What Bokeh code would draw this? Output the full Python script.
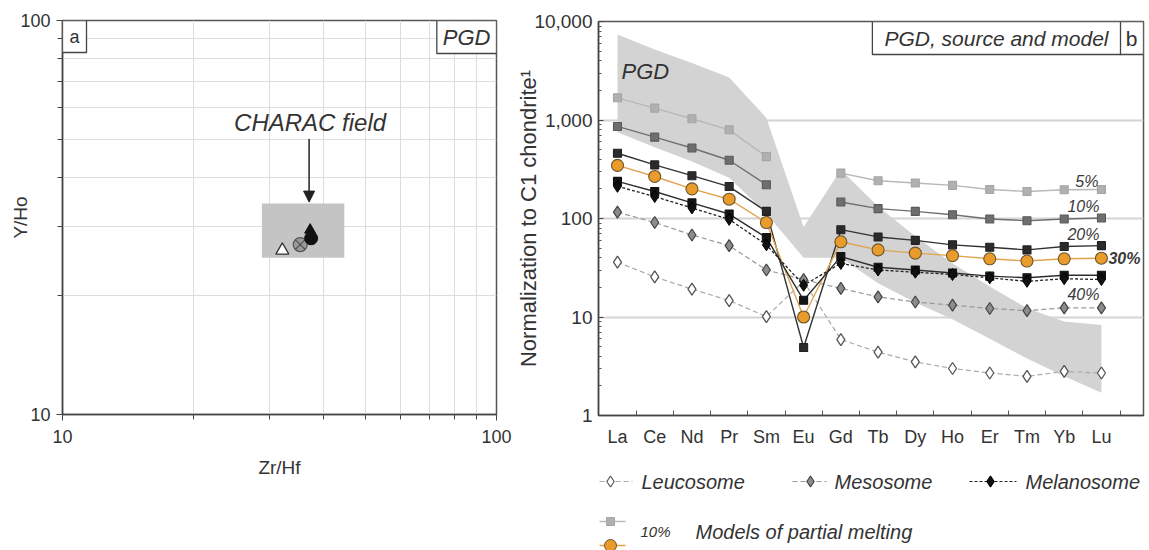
import math
from bokeh.plotting import figure
from bokeh.layouts import row, column
from bokeh.models import (Range1d, FixedTicker, Label, Arrow, NormalHead,
                          NumeralTickFormatter)
from bokeh.core.properties import value
from bokeh.embed import file_html
from bokeh.resources import INLINE

FONT = "Liberation Sans"
nan = float("nan")

# ---------------- Panel a data ----------------
charac_zrhf = [28.8, 44.6]          # CHARAC field extent (Zr/Hf)
charac_yho = [25.0, 34.3]           # CHARAC field extent (Y/Ho)
leuco_zrhf = [32.1]
leuco_yho = [26.1]
meso_zrhf = [35.3]
meso_yho = [27.0]
mela_zrhf = [37.4, 37.2]
mela_yho = [28.0, 29.4]

# ---------------- Panel b data ----------------
ree = ["La", "Ce", "Nd", "Pr", "Sm", "Eu", "Gd", "Tb", "Dy", "Ho", "Er", "Tm", "Yb", "Lu"]
leucosome = [36, 25.5, 19.2, 14.7, 10.1, 23, 5.9, 4.4, 3.5, 3.0, 2.7, 2.5, 2.8, 2.7]
mesosome = [116, 91, 68, 53, 30, 24, 19.5, 16, 14.2, 13.2, 12.2, 11.6, 12.4, 12.4]
melanosome = [212, 167, 128, 98, 54, 21, 35, 30, 28.5, 27, 25, 23, 24.5, 24]
model_5 = [1680, 1320, 1030, 795, 425, nan, 289, 242, 229, 217, 197, 188, 196, 197]
model_10 = [860, 670, 520, 390, 220, nan, 147, 126, 118, 109, 99, 95, 99, 101]
model_20 = [460, 350, 272, 211, 118, 4.9, 77, 65, 60, 54, 51, 48, 52, 53]
model_30 = [346, 267, 200, 157, 91, 10, 58, 48, 44.5, 42, 39, 37, 39, 39.5]
model_40 = [238, 188, 144, 111, 64, 14.8, 41, 32, 30, 28, 26, 25, 26.5, 26.5]
pgd_upper = [7400, 5200, 3800, 2700, 1050, 82, 312, 132, 66, 35, 20.4, 12.3, 9.0, 8.3]
pgd_lower = [750, 530, 380, 260, 112, 40, 40, 22, 14, 9.5, 6.0, 3.8, 2.5, 1.7]

idx = list(range(len(ree)))

# ================= Panel a =================
pa = figure(width=512, height=484, x_axis_type="log", y_axis_type="log",
            x_range=Range1d(10, 100), y_range=Range1d(10, 100),
            output_backend="svg", toolbar_location=None,
            min_border_left=62, min_border_right=16, min_border_top=20,
            min_border_bottom=70)
pa.background_fill_color = "white"
pa.outline_line_color = "#555555"
pa.outline_line_width = 1.5

for ax in (pa.xaxis[0], pa.yaxis[0]):
    ax.ticker = FixedTicker(ticks=[10, 100], minor_ticks=[20, 30, 40, 50, 60, 70, 80, 90])
    ax.formatter = NumeralTickFormatter(format="0,0")
    ax.major_tick_out = 6
    ax.major_tick_in = 0
    ax.minor_tick_out = 5
    ax.minor_tick_in = 0
    ax.axis_line_color = "#444444"
    ax.axis_line_width = 1.5
    ax.major_tick_line_color = "#444444"
    ax.minor_tick_line_color = "#444444"
    ax.major_label_text_font = FONT
    ax.major_label_text_font_size = "18px"
    ax.major_label_text_color = "#333333"
    ax.axis_label_text_font = FONT
    ax.axis_label_text_font_size = "19px"
    ax.axis_label_text_font_style = "normal"
    ax.axis_label_text_color = "#333333"
    ax.major_label_standoff = 6

pa.xaxis.axis_label = "Zr/Hf"
pa.yaxis.axis_label = "Y/Ho"
pa.xaxis.major_label_standoff = 9
pa.xaxis.axis_label_standoff = 11
pa.yaxis.axis_label_standoff = -14

for g in (pa.xgrid[0], pa.ygrid[0]):
    g.grid_line_color = "#dddddd"
    g.minor_grid_line_color = "#dddddd"
    g.grid_line_width = 1

pa.quad(left=[charac_zrhf[0]], right=[charac_zrhf[1]],
        bottom=[charac_yho[0]], top=[charac_yho[1]],
        fill_color="#c4c4c4", line_color=None)
pa.scatter(leuco_zrhf, leuco_yho, marker="triangle", size=13,
           fill_color="white", line_color="#333333", line_width=1.3)
pa.scatter(meso_zrhf, meso_yho, marker="circle_x", size=14,
           fill_color="#9a9a9a", line_color="#555555", line_width=1.2)
pa.scatter([mela_zrhf[1]], [mela_yho[1]], marker="triangle", size=11,
           fill_color="#111111", line_color="#111111")
pa.scatter([mela_zrhf[0]], [mela_yho[0]], marker="circle", size=13,
           fill_color="#111111", line_color="#111111")

pa.add_layout(Arrow(end=NormalHead(size=11, fill_color="#222222", line_color="#222222"),
                    x_start=37.0, y_start=50.0, x_end=37.0, y_end=34.6,
                    line_color="#222222", line_width=1.5))
pa.add_layout(Label(x=37.2, y=55, text="CHARAC field", text_align="center",
                    text_baseline="middle", text_font=FONT, text_font_size="24px",
                    text_font_style="italic", text_color="#333333"))
pa.add_layout(Label(x=10, y=100, text="a", text_align="left", text_baseline="top",
                    text_font=FONT, text_font_size="18px", text_color="#333333",
                    padding=(7, 6), border_line_color="#444444", border_line_width=1.3,
                    background_fill_color="white"))
pa.add_layout(Label(x=100, y=100, text="PGD", text_align="right", text_baseline="top",
                    text_font=FONT, text_font_size="22px", text_font_style="italic",
                    text_color="#333333",
                    padding=(6, 4), border_line_color="#444444", border_line_width=1.3,
                    background_fill_color="white"))

# ================= Panel b =================
XMAX = 14.13
BL, BR = 86, 3
pb = figure(width=634, height=455, y_axis_type="log",
            x_range=Range1d(-0.51, XMAX), y_range=Range1d(1, 10000),
            output_backend="svg", toolbar_location=None,
            min_border_left=BL, min_border_right=BR, min_border_top=21,
            min_border_bottom=40)
pb.outline_line_color = "#555555"
pb.outline_line_width = 1.5

xa = pb.xaxis[0]
xa.ticker = FixedTicker(ticks=idx, minor_ticks=[i + 0.5 for i in idx])
xa.major_label_overrides = {i: name for i, name in zip(idx, ree)}
xa.major_tick_in = 0
xa.major_tick_out = 0
xa.minor_tick_in = 5
xa.minor_tick_out = 0
xa.major_label_standoff = 11

ya = pb.yaxis[0]
ya.ticker = FixedTicker(ticks=[1, 10, 100, 1000, 10000],
                        minor_ticks=[k * 10 ** d for d in range(4) for k in range(2, 10)])
ya.formatter = NumeralTickFormatter(format="0,0")
ya.major_tick_in = 5
ya.major_tick_out = 0
ya.minor_tick_in = 3
ya.minor_tick_out = 0
ya.major_label_standoff = 6
ya.axis_label = "Normalization to C1 chondrite\u00b9"
ya.axis_label_standoff = -10

for ax in (xa, ya):
    ax.axis_line_color = "#444444"
    ax.axis_line_width = 1.5
    ax.major_tick_line_color = "#444444"
    ax.minor_tick_line_color = "#555555"
    ax.major_label_text_font = FONT
    ax.major_label_text_color = "#333333"
    ax.axis_label_text_font = FONT
    ax.axis_label_text_font_size = "22px"
    ax.axis_label_text_font_style = "normal"
    ax.axis_label_text_color = "#333333"
xa.major_label_text_font_size = "18px"
ya.major_label_text_font_size = "19px"

pb.xgrid.grid_line_color = None
pb.ygrid.grid_line_color = "#d4d4d4"
pb.ygrid.grid_line_width = 2

# PGD field
pb.patch(idx + idx[::-1], pgd_upper + pgd_lower[::-1],
         fill_color="#d3d3d3", line_color=None)

# samples
pb.line(idx, leucosome, line_color="#aaaaaa", line_dash="5 3", line_width=1.2)
pb.scatter(idx, leucosome, marker="diamond", size=12, fill_color="white",
           line_color="#555555", line_width=1.3)
pb.line(idx, mesosome, line_color="#999999", line_dash="5 3", line_width=1.2)
pb.scatter(idx, mesosome, marker="diamond", size=12, fill_color="#8c8c8c",
           line_color="#444444", line_width=1.2)

# models
model_styles = [
    (model_5, "#b8b8b8", "#b0b0b0", "#a5a5a5", "square", 8),
    (model_10, "#707070", "#6e6e6e", "#5a5a5a", "square", 8),
    (model_20, "#333333", "#2b2b2b", "#222222", "square", 8),
    (model_30, "#e0a450", "#e99b2b", "#6b5530", "circle", 12),
    (model_40, "#2e2e2e", "#141414", "#111111", "square", 8),
]
for vals, lc, fc, mlc, mk, sz in model_styles:
    pb.line(idx, vals, line_color=lc, line_width=1.4)
    pb.scatter(idx, vals, marker=mk, size=sz, fill_color=fc, line_color=mlc, line_width=1.1)

pb.line(idx, melanosome, line_color="#222222", line_dash="3 2", line_width=1.3)
pb.scatter(idx, melanosome, marker="diamond", size=12, fill_color="#111111",
           line_color="#000000", line_width=1)

# model percentage labels next to Lu
last = len(ree) - 1
lab_specs = [
    (model_5, "5%", "right", -3, -8, "italic"),
    (model_10, "10%", "right", -2, -12, "italic"),
    (model_20, "20%", "right", -2, -11, "italic"),
    (model_30, "30%", "left", 7, 0, "bold italic"),
    (model_40, "40%", "right", -2, 19, "italic"),
]
for vals, txt, al, xo, yo, st in lab_specs:
    pb.text(x=[idx[last]], y=[vals[last]], text=[txt], text_align=al,
            text_baseline="middle", x_offset=xo, y_offset=yo,
            text_font=value(FONT), text_font_size="16px", text_font_style=st,
            text_color="#3a3a3a")

pb.add_layout(Label(x=0, y=3100, text="PGD", x_offset=4, text_align="left",
                    text_baseline="middle", text_font=FONT, text_font_size="22px",
                    text_font_style="italic", text_color="#333333"))
pb.add_layout(Label(x=XMAX, y=10000, text="b", text_align="right", text_baseline="top",
                    text_font=FONT, text_font_size="21px", text_color="#333333",
                    padding=(6, 5), border_line_color="#444444", border_line_width=1.3,
                    background_fill_color="white"))
pb.add_layout(Label(x=XMAX, y=10000, x_offset=-23, text="PGD, source and model",
                    text_align="right", text_baseline="top",
                    text_font=FONT, text_font_size="21px", text_font_style="italic",
                    text_color="#333333",
                    padding=(12, 5), border_line_color="#444444", border_line_width=1.3,
                    background_fill_color="white"))

# ================= Legend (own small canvas, pixel coordinates) =================
pl = figure(width=634, height=95, x_range=Range1d(BL, 634 - BR), y_range=Range1d(95, 0),
            x_axis_type=None, y_axis_type=None, output_backend="svg",
            toolbar_location=None, min_border_left=BL, min_border_right=BR,
            min_border_top=0, min_border_bottom=0)
pl.outline_line_color = None
pl.grid.visible = False

legend_rows = [
    ("Leucosome", 87, 120, 98, 129, 26, "#aaaaaa", "5 3", "white", "#555555"),
    ("Mesosome", 280, 314, 298, 322, 26, "#999999", "5 3", "#8c8c8c", "#444444"),
    ("Melanosome", 457, 504, 478, 513, 26, "#222222", "3 2", "#111111", "#000000"),
]
for name, x0, x1, xm, xt, yy, lc, dash, fc, mlc in legend_rows:
    pl.line([x0, x1], [yy, yy], line_color=lc, line_dash=dash, line_width=1.2)
    pl.scatter([xm], [yy], marker="diamond", size=11, fill_color=fc,
               line_color=mlc, line_width=1.2)
    pl.text(x=[xt], y=[yy], text=[name], text_baseline="middle", text_align="left",
            text_font=value(FONT), text_font_size="20px", text_font_style="italic",
            text_color="#333333")

pl.line([87, 113], [66, 66], line_color="#b8b8b8", line_width=1.4)
pl.scatter([98], [66], marker="square", size=8, fill_color="#b0b0b0",
           line_color="#a5a5a5")
pl.line([87, 113], [90, 90], line_color="#e0a450", line_width=1.4)
pl.scatter([98], [90], marker="circle", size=12, fill_color="#e99b2b",
           line_color="#6b5530")
pl.text(x=[128], y=[76], text=["10%"], text_baseline="middle", text_align="left",
        text_font=value(FONT), text_font_size="15px", text_font_style="italic",
        text_color="#333333")
pl.text(x=[183], y=[76], text=["Models of partial melting"], text_baseline="middle",
        text_align="left", text_font=value(FONT), text_font_size="20px",
        text_font_style="italic", text_color="#333333")

layout = row(pa, column(pb, pl))
open("out.html", "w").write(file_html(layout, INLINE))
